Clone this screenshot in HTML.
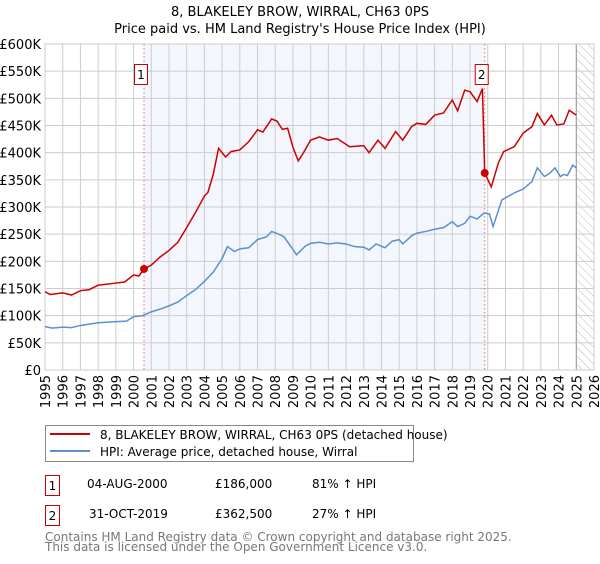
<!DOCTYPE html>
<html><head><meta charset="utf-8"><style>
body{margin:0;background:#fff;font-family:"DejaVu Sans","Liberation Sans",sans-serif;}
svg text{font-family:"DejaVu Sans","Liberation Sans",sans-serif;}
</style></head><body>
<svg id="chart" width="600" height="560" xmlns="http://www.w3.org/2000/svg">
<defs>
<pattern id="hatch" width="6" height="6" patternUnits="userSpaceOnUse" patternTransform="rotate(-45)">
<line x1="0" y1="0" x2="0" y2="6" stroke="#bbb" stroke-width="1"/></pattern>
</defs>
<text x="300" y="16" text-anchor="middle" font-size="13">8, BLAKELEY BROW, WIRRAL, CH63 0PS</text>
<text x="300" y="33" text-anchor="middle" font-size="13">Price paid vs. HM Land Registry's House Price Index (HPI)</text>
<g id="plot"></g>
<rect x="45.5" y="425.5" width="368" height="36" fill="#fff" stroke="#888"/>
<line x1="50" y1="434" x2="90" y2="434" stroke="#cc0000" stroke-width="2"/>
<text x="100" y="439" font-size="12">8, BLAKELEY BROW, WIRRAL, CH63 0PS (detached house)</text>
<line x1="50" y1="451" x2="90" y2="451" stroke="#5b8fd0" stroke-width="2"/>
<text x="100" y="456" font-size="12">HPI: Average price, detached house, Wirral</text>
<g font-size="12">
<rect x="45.5" y="475.5" width="14" height="20" fill="#fff" stroke="#cc0000"/>
<text x="52.5" y="490" text-anchor="middle">1</text>
<text x="87" y="488">04-AUG-2000</text><text x="215" y="488">£186,000</text><text x="312" y="488">81% ↑ HPI</text>
</g>
<g font-size="12">
<rect x="45.5" y="505.5" width="14" height="20" fill="#fff" stroke="#cc0000"/>
<text x="52.5" y="520" text-anchor="middle">2</text>
<text x="89" y="518">31-OCT-2019</text><text x="215" y="518">£362,500</text><text x="312" y="518">27% ↑ HPI</text>
</g>
<text x="45" y="541" font-size="12" fill="#777">Contains HM Land Registry data © Crown copyright and database right 2025.</text>
<text x="45" y="551" font-size="12" fill="#777">This data is licensed under the Open Government Licence v3.0.</text>
</svg>
<script>
const yTicks=[0,50,100,150,200,250,300,350,400,450,500,550,600];
const yTickLabels=["£0","£50K","£100K","£150K","£200K","£250K","£300K","£350K","£400K","£450K","£500K","£550K","£600K"];
const years=[1995,1996,1997,1998,1999,2000,2001,2002,2003,2004,2005,2006,2007,2008,2009,2010,2011,2012,2013,2014,2015,2016,2017,2018,2019,2020,2021,2022,2023,2024,2025,2026];
const hpiT=[1995,1995.4,1996,1996.5,1997,1998,1999,1999.6,2000,2000.5,2001,2001.5,2002,2002.5,2003,2003.5,2004,2004.5,2005,2005.3,2005.7,2006,2006.5,2007,2007.5,2007.8,2008.2,2008.5,2009,2009.2,2009.7,2010,2010.5,2011,2011.5,2012,2012.5,2013,2013.3,2013.7,2014.2,2014.6,2015,2015.2,2015.7,2016,2016.5,2017,2017.5,2018,2018.3,2018.7,2019,2019.4,2019.8,2020.1,2020.3,2020.8,2021.5,2022,2022.5,2022.8,2023.2,2023.5,2023.8,2024.1,2024.3,2024.5,2024.8,2025];
const hpiV=[80,77,79,78,82,87,89,90,98,100,107,112,118,125,137,148,163,180,205,227,218,223,225,240,245,255,250,245,222,212,228,233,235,232,234,232,227,226,221,232,225,237,240,232,247,252,255,259,262,273,264,270,283,278,289,287,264,313,326,333,347,372,356,362,372,356,360,358,377,372];
const ppT=[1995,1995.3,1996,1996.5,1997,1997.5,1998,1999,1999.5,2000,2000.3,2000.6,2001,2001.5,2002,2002.5,2003,2003.5,2004,2004.2,2004.5,2004.8,2005.2,2005.5,2006,2006.5,2007,2007.3,2007.8,2008.1,2008.4,2008.7,2009,2009.3,2009.6,2010,2010.5,2011,2011.5,2012.2,2013,2013.3,2013.8,2014.2,2014.8,2015.2,2015.7,2016,2016.5,2017,2017.5,2018,2018.3,2018.7,2019,2019.4,2019.7,2019.83,2020.2,2020.6,2020.9,2021.5,2022,2022.5,2022.8,2023.2,2023.6,2023.9,2024.3,2024.6,2025];
const ppV=[144,139,142,138,146,148,156,160,162,175,173,186,193,208,220,235,262,290,320,327,360,408,392,402,405,420,442,438,462,458,443,445,410,385,400,423,429,423,426,411,413,400,423,408,439,423,448,454,452,469,473,497,477,515,512,494,518,362.5,337,381,402,411,436,448,472,451,469,451,453,478,469];
const sales=[[2000.59,186,"1"],[2019.83,362.5,"2"]];
const X0=45,X1=594,Y0=370,Y1=44;
const xs=t=>X0+(t-1995)*(X1-X0)/31;
const ys=v=>Y0-v*(Y0-Y1)/600;
const NS="http://www.w3.org/2000/svg";
const g=document.getElementById('plot');
function mk(tag,attrs){const e=document.createElementNS(NS,tag);for(const k in attrs)e.setAttribute(k,attrs[k]);g.appendChild(e);return e;}
let e;
e=mk('rect',{x:xs(sales[0][0]),y:Y1,width:xs(sales[1][0])-xs(sales[0][0]),height:Y0-Y1,fill:'#eef3fc',opacity:0.7});


e=mk('rect',{x:xs(2025),y:Y1,width:X1-xs(2025),height:Y0-Y1,fill:'url(#hatch)'});


yTicks.forEach((v,i)=>{
 e=mk('line',{x1:X0,x2:X1,y1:ys(v),y2:ys(v),stroke:'#ccc'});
 
 
 e=mk('text',{x:X0-4,y:ys(v)+5,'text-anchor':'end','font-size':13});
 e.textContent=yTickLabels[i];
 
 
});
years.forEach(y=>{
 e=mk('line',{x1:xs(y),x2:xs(y),y1:Y1,y2:Y0,stroke:'#ccc'});
 
 
 e=mk('text',{x:0,y:0,'text-anchor':'end','font-size':13,transform:`translate(${xs(y)+5},${Y0+5}) rotate(-90)`});
 e.textContent=y;
 
 
});
e=mk('line',{x1:xs(2025),x2:xs(2025),y1:Y1,y2:Y0,stroke:'#999'});


e=mk('rect',{x:X0,y:Y1,width:X1-X0,height:Y0-Y1,fill:'none',stroke:'#ccc'});


sales.forEach(s=>{
 e=mk('line',{x1:xs(s[0]),x2:xs(s[0]),y1:Y1,y2:Y0,stroke:'#e66','stroke-dasharray':'1.5,2.5'});
 
 
});
e=mk('polyline',{points:hpiT.map((t,i)=>xs(t)+','+ys(hpiV[i])).join(' '),fill:'none',stroke:'#5b8fd0','stroke-width':1.5});


e=mk('polyline',{points:ppT.map((t,i)=>xs(t)+','+ys(ppV[i])).join(' '),fill:'none',stroke:'#cc0000','stroke-width':1.5});


sales.forEach(s=>{
 e=mk('circle',{cx:xs(s[0]),cy:ys(s[1]),r:4,fill:'#cc0000'});
 
 
 const bx=xs(s[0])-9;
 e=mk('rect',{x:bx-0.5,y:64.5,width:13,height:20,fill:'#fff',stroke:'#cc0000'});
 
 
 e=mk('text',{x:bx+6,y:79,'text-anchor':'middle','font-size':12});
 e.textContent=s[2];
 
 
});
</script>
</body></html>
